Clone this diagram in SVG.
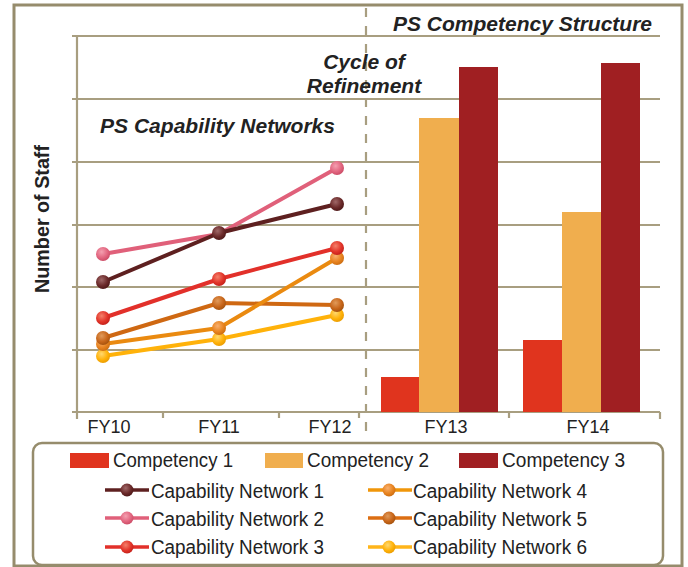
<svg xmlns="http://www.w3.org/2000/svg" width="688" height="567" viewBox="0 0 688 567">
<style>
.frame{fill:#fff;stroke:#968c6c;stroke-width:3}
.grid{stroke:#a89e80;stroke-width:2.2;fill:none}
.dash{stroke:#a89e80;stroke-width:2.2;stroke-dasharray:9 9;fill:none}
.t{font-family:"Liberation Sans",Arial,sans-serif;fill:#222}
.title{font-size:21px;font-weight:bold;font-style:italic}
.ax{font-size:18px;text-anchor:middle}
.lg{font-size:20px}
.ln{fill:none;stroke-width:4;stroke-linejoin:round;stroke-linecap:round}
.lgl{fill:none;stroke-width:3.5}
</style>
<defs>
<radialGradient id="g1" cx="0.4" cy="0.35" r="0.7"><stop offset="0" stop-color="#a06868"/><stop offset="0.6" stop-color="#6b2a2a"/><stop offset="1" stop-color="#4a1616"/></radialGradient>
<radialGradient id="g2" cx="0.4" cy="0.35" r="0.7"><stop offset="0" stop-color="#f4a0b0"/><stop offset="0.6" stop-color="#e26680"/><stop offset="1" stop-color="#c84862"/></radialGradient>
<radialGradient id="g3" cx="0.4" cy="0.35" r="0.7"><stop offset="0" stop-color="#f4806a"/><stop offset="0.6" stop-color="#e2352a"/><stop offset="1" stop-color="#c01e18"/></radialGradient>
<radialGradient id="g4" cx="0.4" cy="0.35" r="0.7"><stop offset="0" stop-color="#f8b070"/><stop offset="0.6" stop-color="#e88420"/><stop offset="1" stop-color="#c86a10"/></radialGradient>
<radialGradient id="g5" cx="0.4" cy="0.35" r="0.7"><stop offset="0" stop-color="#e09a5a"/><stop offset="0.6" stop-color="#c8661a"/><stop offset="1" stop-color="#a0500c"/></radialGradient>
<radialGradient id="g6" cx="0.4" cy="0.35" r="0.7"><stop offset="0" stop-color="#ffd870"/><stop offset="0.6" stop-color="#ffb20a"/><stop offset="1" stop-color="#e89a00"/></radialGradient>
</defs>

<rect id="frame" class="frame" x="14" y="5" width="668" height="561"/>

<g id="axes">
<line class="grid" x1="72" y1="36" x2="660" y2="36"/>
<line class="grid" x1="72" y1="99" x2="660" y2="99"/>
<line class="grid" x1="72" y1="162" x2="660" y2="162"/>
<line class="grid" x1="72" y1="225" x2="660" y2="225"/>
<line class="grid" x1="72" y1="287" x2="660" y2="287"/>
<line class="grid" x1="72" y1="350" x2="660" y2="350"/>
<line class="grid" x1="72" y1="412" x2="660" y2="412"/>
<line class="grid" x1="77" y1="36" x2="77" y2="419"/>
<line class="grid" x1="163" y1="412" x2="163" y2="418"/>
<line class="grid" x1="279" y1="412" x2="279" y2="418"/>
<line class="grid" x1="359" y1="412" x2="359" y2="418"/>
<line class="grid" x1="509" y1="412" x2="509" y2="418"/>
<line class="grid" x1="660" y1="412" x2="660" y2="419"/>
</g>

<g id="bars">
<rect x="381" y="377" width="38" height="35" fill="#e0341e"/>
<rect x="419" y="118" width="40" height="294" fill="#f0ae4e"/>
<rect x="459" y="67" width="39" height="345" fill="#a01f22"/>
<rect x="523" y="340" width="39" height="72" fill="#e0341e"/>
<rect x="562" y="212" width="39" height="200" fill="#f0ae4e"/>
<rect x="601" y="63" width="39" height="349" fill="#a01f22"/>
</g>

<line id="divider" class="dash" x1="366" y1="8" x2="366" y2="434"/>

<g id="series">
<g id="cn6"><polyline class="ln" stroke="#ffb20a" points="103,356 219,339 337,315"/>
<circle cx="103" cy="356" r="7" fill="url(#g6)"/><circle cx="219" cy="339" r="7" fill="url(#g6)"/><circle cx="337" cy="315" r="7" fill="url(#g6)"/></g>
<g id="cn5"><polyline class="ln" stroke="#cf6812" points="103,338 219,303 337,305"/>
<circle cx="337" cy="305" r="7" fill="url(#g5)"/><circle cx="219" cy="303" r="7" fill="url(#g5)"/></g>
<g id="cn4"><polyline class="ln" stroke="#ea8a10" points="103,344 219,328 337,258"/>
<circle cx="103" cy="344" r="7" fill="url(#g4)"/><circle cx="219" cy="328" r="7" fill="url(#g4)"/><circle cx="337" cy="258" r="7" fill="url(#g4)"/></g>
<circle cx="103" cy="338" r="7" fill="url(#g5)"/>
<g id="cn3"><polyline class="ln" stroke="#e2302a" points="103,318 219,279 337,248"/>
<circle cx="103" cy="318" r="7" fill="url(#g3)"/><circle cx="219" cy="279" r="7" fill="url(#g3)"/><circle cx="337" cy="248" r="7" fill="url(#g3)"/></g>
<g id="cn2"><polyline class="ln" stroke="#e0607a" points="103,254 219,234 337,168"/>
<circle cx="103" cy="254" r="7" fill="url(#g2)"/><circle cx="337" cy="168" r="7" fill="url(#g2)"/></g>
<g id="cn1"><polyline class="ln" stroke="#5e2020" points="103,282 219,233 337,204"/>
<circle cx="103" cy="282" r="7" fill="url(#g1)"/><circle cx="219" cy="233" r="7" fill="url(#g1)"/><circle cx="337" cy="204" r="7" fill="url(#g1)"/></g>
</g>

<g id="labels">
<text class="t title" x="393" y="31" textLength="259" lengthAdjust="spacingAndGlyphs">PS Competency Structure</text>
<text class="t title" x="364" y="69" text-anchor="middle">Cycle of</text>
<text class="t title" x="364" y="93" text-anchor="middle">Refinement</text>
<text class="t title" x="100" y="133" textLength="235" lengthAdjust="spacingAndGlyphs">PS Capability Networks</text>
<text class="t" x="-293" y="49" font-size="20" font-weight="bold" transform="rotate(-90)" textLength="148" lengthAdjust="spacingAndGlyphs">Number of Staff</text>
<text class="t ax" x="109" y="433">FY10</text>
<text class="t ax" x="219" y="433">FY11</text>
<text class="t ax" x="330" y="433">FY12</text>
<text class="t ax" x="446" y="433">FY13</text>
<text class="t ax" x="588" y="433">FY14</text>
</g>

<g id="legend">
<rect x="33" y="443" width="630" height="122" rx="9" fill="#fff" stroke="#968c6c" stroke-width="2.5"/>
<rect x="70" y="453" width="39" height="15" fill="#e0341e"/>
<text class="t lg" x="113" y="467" textLength="120" lengthAdjust="spacingAndGlyphs">Competency 1</text>
<rect x="265" y="453" width="38" height="15" fill="#f0ae4e"/>
<text class="t lg" x="307" y="467" textLength="122" lengthAdjust="spacingAndGlyphs">Competency 2</text>
<rect x="459" y="453" width="39" height="15" fill="#a01f22"/>
<text class="t lg" x="502" y="467" textLength="123" lengthAdjust="spacingAndGlyphs">Competency 3</text>

<line class="lgl" stroke="#5e2020" x1="105" y1="490" x2="149" y2="490"/><circle cx="127" cy="490" r="6.5" fill="url(#g1)"/>
<text class="t lg" x="151" y="498" textLength="173" lengthAdjust="spacingAndGlyphs">Capability Network 1</text>
<line class="lgl" stroke="#e0607a" x1="105" y1="518" x2="149" y2="518"/><circle cx="127" cy="518" r="6.5" fill="url(#g2)"/>
<text class="t lg" x="151" y="526" textLength="173" lengthAdjust="spacingAndGlyphs">Capability Network 2</text>
<line class="lgl" stroke="#e2302a" x1="105" y1="547" x2="149" y2="547"/><circle cx="127" cy="547" r="6.5" fill="url(#g3)"/>
<text class="t lg" x="151" y="554" textLength="173" lengthAdjust="spacingAndGlyphs">Capability Network 3</text>

<line class="lgl" stroke="#f0960a" x1="368" y1="490" x2="412" y2="490"/><circle cx="389" cy="490" r="6.5" fill="url(#g4)"/>
<text class="t lg" x="413" y="498" textLength="174" lengthAdjust="spacingAndGlyphs">Capability Network 4</text>
<line class="lgl" stroke="#dc6e12" x1="368" y1="518" x2="412" y2="518"/><circle cx="389" cy="518" r="6.5" fill="url(#g5)"/>
<text class="t lg" x="413" y="526" textLength="174" lengthAdjust="spacingAndGlyphs">Capability Network 5</text>
<line class="lgl" stroke="#ffb51a" x1="368" y1="547" x2="412" y2="547"/><circle cx="389" cy="547" r="6.5" fill="url(#g6)"/>
<text class="t lg" x="413" y="554" textLength="174" lengthAdjust="spacingAndGlyphs">Capability Network 6</text>
</g>
</svg>
